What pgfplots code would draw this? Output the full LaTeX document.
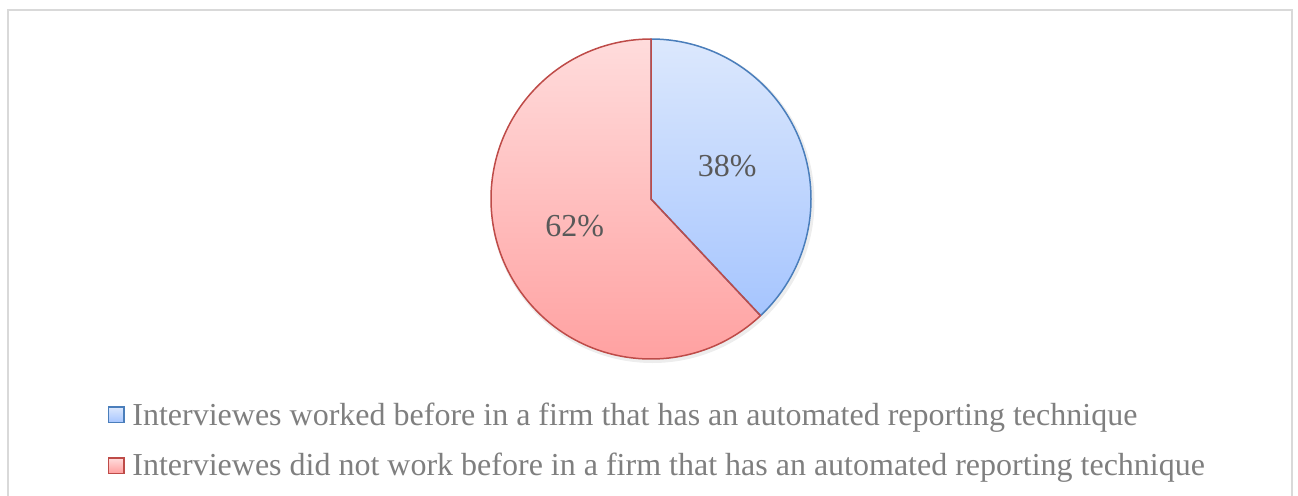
\documentclass[border=0pt]{standalone}
\usepackage{pgfplots}
\pgfplotsset{compat=1.18}
\usepackage{pgfplotstable}
\usetikzlibrary{calc}
\usepackage{fontspec}
\setmainfont{Liberation Serif}

\definecolor{bluetop}{HTML}{DCE8FD}
\definecolor{bluebot}{HTML}{A6C5FE}
\definecolor{blueline}{HTML}{4A7EBB}
\definecolor{redtop}{HTML}{FFDCDC}
\definecolor{redbot}{HTML}{FF9E9E}
\definecolor{redline}{HTML}{BE4B48}
\definecolor{labgray}{HTML}{595959}
\definecolor{leggray}{HTML}{7F7F7F}
\definecolor{framegray}{HTML}{D9D9D9}

% pie shares in percent
\pgfplotstableread{
share
38
62
}\piedata

\begin{document}
\begin{tikzpicture}
\pgfplotstablegetelem{0}{share}\of\piedata \let\sA\pgfplotsretval
\pgfplotstablegetelem{1}{share}\of\piedata \let\sB\pgfplotsretval
\pgfmathsetmacro{\aA}{90}
\pgfmathsetmacro{\aB}{90-3.6*\sA}
\pgfmathsetmacro{\aC}{\aB-3.6*\sB}
\pgfmathsetmacro{\mA}{(\aA+\aB)/2}
\pgfmathsetmacro{\mB}{(\aB+\aC)/2}
\begin{axis}[
    x=0.5pt, y=0.5pt,
    xmin=0, xmax=1298, ymin=0, ymax=495,
    hide axis, clip=false,
    at={(0,0)}, anchor=south west,
  ]
  % frame
  \draw[framegray, line width=1pt] (axis cs:7.5,-10) -- (axis cs:7.5,485.5) -- (axis cs:1291.5,485.5) -- (axis cs:1291.5,-10);
  % soft shadow
  \fill[black, opacity=0.07] (axis cs:652.5,294) circle[radius=81pt];
  % slices
  \shade[top color=bluetop, bottom color=bluebot] (axis cs:651,296) -- ++(\aA:80pt) arc[start angle=\aA, end angle=\aB, radius=80pt] -- cycle;
  \shade[top color=redtop, bottom color=redbot] (axis cs:651,296) -- ++(\aB:80pt) arc[start angle=\aB, end angle=\aC, radius=80pt] -- cycle;
  \draw[blueline, line width=0.75pt, line join=round] (axis cs:651,296) -- ++(\aA:80pt) arc[start angle=\aA, end angle=\aB, radius=80pt] -- cycle;
  \draw[redline, line width=0.75pt, line join=round] (axis cs:651,296) -- ++(\aB:80pt) arc[start angle=\aB, end angle=\aC, radius=80pt] -- cycle;
  % data labels
  \node[labgray, font=\fontsize{16}{18}\selectfont] at ($(axis cs:651,299)+(\mA:41pt)$) {\sA\%};
  \node[labgray, font=\fontsize{16}{18}\selectfont] at ($(axis cs:651,299)+(\mB:41pt)$) {\sB\%};
  % legend
  \shade[top color=bluetop, bottom color=bluebot] (axis cs:108.5,72.5) rectangle (axis cs:124,88);
  \draw[blueline, line width=0.6pt] (axis cs:108.5,72.5) rectangle (axis cs:124,88);
  \shade[top color=redtop, bottom color=redbot] (axis cs:108.5,21.5) rectangle (axis cs:124,37);
  \draw[redline, line width=0.6pt] (axis cs:108.5,21.5) rectangle (axis cs:124,37);
  \node[leggray, anchor=base west, inner sep=0pt, font=\fontsize{16}{18}\selectfont] at (axis cs:132,70) {Interviewes worked before in a firm that has an automated reporting technique};
  \node[leggray, anchor=base west, inner sep=0pt, font=\fontsize{16}{18}\selectfont] at (axis cs:132,20) {Interviewes did not work before in a firm that has an automated reporting technique};
\end{axis}
\pgfresetboundingbox
\useasboundingbox (0,0) rectangle (649pt,247.5pt);
\end{tikzpicture}
\end{document}
